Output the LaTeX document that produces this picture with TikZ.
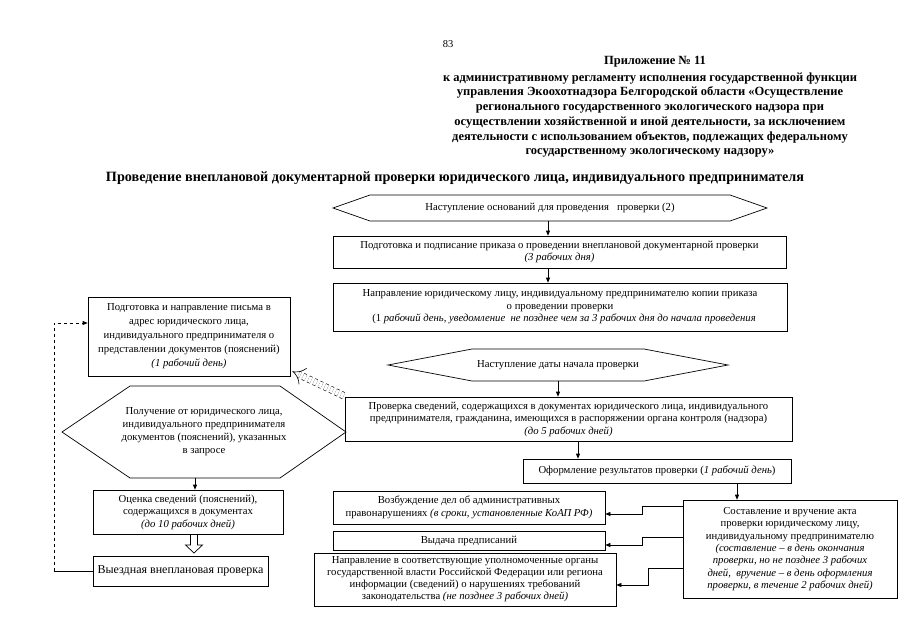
\documentclass[tikz,border=0pt]{standalone}
\usepackage{fontspec}
\setmainfont{Liberation Serif}
\usetikzlibrary{arrows.meta,calc}
\newcommand\boxfont{\fontsize{10.7}{12.5}\selectfont}
\newcommand\hdrfont{\bfseries\fontsize{12.5}{14.7}\selectfont}
\begin{document}
\begin{tikzpicture}[x=1pt,y=-1pt,
  box/.style={draw, line width=0.7pt, align=center, inner sep=0pt, font=\boxfont},
  hexnode/.style={draw=none, align=center, inner sep=0pt, font=\boxfont},
  hexline/.style={draw, line width=0.7pt},
  arr/.style={line width=0.7pt, -{Triangle[length=5pt,width=4pt]}},
  hdr/.style={align=center, inner sep=0pt, font=\hdrfont}
]
\useasboundingbox (0,0) rectangle (905,640);
\fill[white] (0,0) rectangle (905,640);

% header
\node[font=\fontsize{10.5}{12}\selectfont, inner sep=0pt] (pg) at (448,44) {83};
\node[hdr] (app) at (655,62) {Приложение № 11};
\node[hdr] (hd) at (650,115) {к административному регламенту исполнения государственной функции\\
управления Экоохотнадзора Белгородской области «Осуществление\\
регионального государственного экологического надзора при\\
осуществлении хозяйственной и иной деятельности, за исключением\\
деятельности с использованием объектов, подлежащих федеральному\\
государственному экологическому надзору»};
\node[hdr, font=\bfseries\fontsize{14.2}{16}\selectfont] (title) at (455,178) {Проведение внеплановой документарной проверки юридического лица, индивидуального предпринимателя};

% hexagon 1
\draw[hexline] (333,208)--(370,195)--(730,195)--(767,208)--(730,221)--(370,221)--cycle;
\node[hexnode, minimum width=434pt, minimum height=26pt] (h1) at (550,208) {Наступление оснований для проведения \ \ проверки (2)};

\node[box, minimum width=453pt, minimum height=32pt] (b2) at (559.5,252)
 {Подготовка и подписание приказа о проведении внеплановой документарной проверки\\\textit{(3 рабочих дня)}};

\node[box, minimum width=454pt, minimum height=48pt] (b3) at (560,307)
 {Направление юридическому лицу, индивидуальному предпринимателю копии приказа\\
 о проведении проверки\\
 \ \ \ (1 \textit{рабочий день, уведомление \ не позднее чем за 3 рабочих дня до начала проведения}};

% hexagon 2
\draw[hexline] (388,365)--(472,349)--(644,349)--(728,365)--(644,381)--(472,381)--cycle;
\node[hexnode, minimum width=340pt, minimum height=32pt] (h2) at (558,365) {Наступление даты начала проверки};

\node[box, minimum width=447pt, minimum height=44pt] (b4) at (568.5,419)
 {Проверка сведений, содержащихся в документах юридического лица, индивидуального\\
 предпринимателя, гражданина, имеющихся в распоряжении органа контроля (надзора)\\
 \textit{(до 5 рабочих дней)}};

\node[box, minimum width=268pt, minimum height=24pt] (b5) at (657,471)
 {Оформление результатов проверки (\textit{1 рабочий день})};

\node[box, minimum width=214pt, minimum height=98pt, font=\fontsize{10.7}{12.3}\selectfont] (b6) at (790,549)
 {Составление и вручение акта\\
 проверки юридическому лицу,\\
 индивидуальному предпринимателю\\
 \textit{(составление – в день окончания}\\
 \textit{проверки, но не позднее 3 рабочих}\\
 \textit{дней, \ вручение – в день оформления}\\
 \textit{проверки, в течение 2 рабочих дней)}};

\node[box, minimum width=272pt, minimum height=33pt] (b7) at (469,507.5)
 {Возбуждение дел об административных\\
 правонарушениях \textit{(в сроки, установленные КоАП РФ)}};
\node[box, minimum width=272pt, minimum height=19pt] (b8) at (469,540.5)
 {Выдача предписаний};
\node[box, minimum width=302pt, minimum height=53pt, font=\fontsize{10.7}{12}\selectfont] (b9) at (465,579.5)
 {Направление в соответствующие уполномоченные органы\\
 государственной власти Российской Федерации или региона\\
 информации (сведений) о нарушениях требований\\
 законодательства \textit{(не позднее 3 рабочих дней)}};

% left column
\node[box, minimum width=202pt, minimum height=79pt, font=\fontsize{10.7}{14}\selectfont] (L1) at (189,336.5)
 {Подготовка и направление письма в\\
 адрес юридического лица,\\
 индивидуального предпринимателя о\\
 представлении документов (пояснений)\\
 \textit{(1 рабочий день)}};

\draw[hexline] (62,432)--(130,386)--(280,386)--(346,432)--(280,478)--(130,478)--cycle;
\node[hexnode, minimum width=284pt, minimum height=92pt, font=\fontsize{10.7}{13}\selectfont] (hL) at (204,432)
 {Получение от юридического лица,\\
 индивидуального предпринимателя\\
 документов (пояснений), указанных\\
 в запросе};

\node[box, minimum width=190pt, minimum height=44pt] (L3) at (188,512)
 {Оценка сведений (пояснений),\\
 содержащихся в документах\\
 \textit{(до 10 рабочих дней)}};

\node[box, minimum width=175pt, minimum height=30pt, font=\fontsize{12}{14}\selectfont] (L4) at (180.5,571)
 {Выездная внеплановая проверка};

% connectors
\coordinate (ax1) at (548,0);
\draw[arr] (h1.south -| ax1) -- (b2.north -| ax1);
\draw[arr] (b2.south -| ax1) -- (b3.north -| ax1);
\draw[arr] (h2.south) -- (h2.south |- b4.north);
\coordinate (ax2) at (578,0);
\draw[arr] (b4.south -| ax2) -- (b5.north -| ax2);
\coordinate (ax3) at (737,0);
\draw[arr] (b5.south -| ax3) -- (b6.north -| ax3);

\coordinate (e1) at (642,506); \coordinate (e1b) at (642,514);
\coordinate (e2) at (642,537); \coordinate (e2b) at (642,545);
\coordinate (e3) at (648,568); \coordinate (e3b) at (648,585);
\draw[arr] (e1 -| b6.west) -- (e1) -- (e1b) -- (e1b -| b7.east);
\draw[arr] (e2 -| b6.west) -- (e2) -- (e2b) -- (e2b -| b8.east);
\draw[arr] (e3 -| b6.west) -- (e3) -- (e3b) -- (e3b -| b9.east);

\coordinate (ax4) at (195,0);
\draw[arr] (hL.south -| ax4) -- (L3.north -| ax4);

% hollow block arrow
\coordinate (ha) at (194,535);
\draw[line width=0.7pt] (ha) ++(-3.5,0) -- ++(0,10) -- ++(-5,0) -- (194,553) -- (202.5,545) -- ++(-5,0) -- ++(0,-10);

% feedback dashed
\coordinate (d1) at (54,323);
\draw[line width=0.7pt] (L4.west) -- (L4.west -| d1);
\draw[arr, dashed] (L4.west -| d1) -- (d1) -- (d1 -| L1.west);

% double dashed arrow
\draw[dashed, double, double distance=6pt, line width=0.6pt, -{Implies}] ($(b4.north west)+(-1,-1)$) -- ($(L1.south east)+(2,-5)$);
\end{tikzpicture}
\end{document}
